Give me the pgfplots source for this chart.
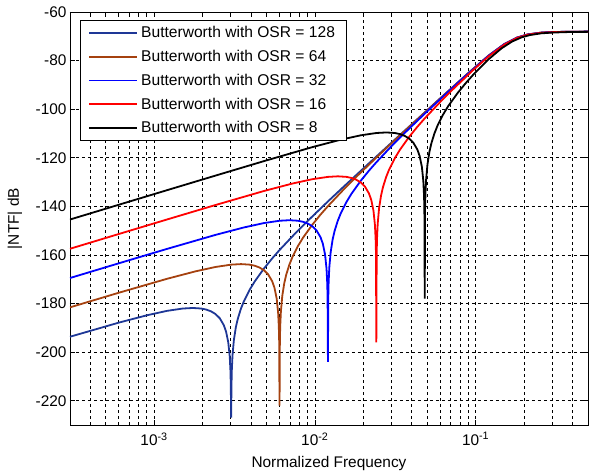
\documentclass[border=0pt]{standalone}
\usepackage{pgfplots}
\pgfplotsset{compat=1.18}
\usepackage{fontspec}
\setmainfont{Liberation Sans}
\definecolor{cnavy}{RGB}{30,55,150}
\definecolor{cbrown}{RGB}{165,65,15}
\begin{document}
\begin{tikzpicture}[font=\fontsize{15.4bp}{18bp}\selectfont]
\begin{semilogxaxis}[
  name=ax, at={(0,0)}, anchor=south west, scale only axis,
  width=518bp, height=413bp,
  xmin=3e-4, xmax=0.5, ymin=-230, ymax=-60,
  log basis x=10,
  ytick={-220,-200,...,-60},
  /pgf/number format/assume math mode=true,
  xticklabel={10\textsuperscript{\pgfmathprintnumber{\tick}}},
  xticklabel style={yshift=-4bp},
  tick align=inside, major tick length=5bp, minor tick length=3bp,
  xmajorgrids, xminorgrids, ymajorgrids,
  grid style={black, dash pattern=on 3bp off 3bp, line width=0.6bp},
  minor grid style={black, dash pattern=on 3bp off 3bp, line width=0.6bp},
  axis line style={line width=0.7bp},
  every tick/.style={black, line width=0.6bp},
  xlabel={Normalized Frequency}, ylabel={|NTF| dB},
  xlabel style={at={(axis description cs:0.5,-0.0944)}, anchor=center},
  ylabel style={at={(axis description cs:-0.1062,0.5)}, anchor=center},
  legend style={at={(axis description cs:0.0193,0.9806)}, anchor=north west,
    draw=black, line width=0.8bp, fill=white, inner xsep=8bp, inner ysep=5bp,
    row sep=9bp, nodes={inner xsep=3bp, inner ysep=1bp},
    font=\fontsize{15.6bp}{18bp}\selectfont},
  legend cell align=left,
  legend image code/.code={\draw[#1, line width=1.8bp] (0bp,0bp) -- (48bp,0bp);},
]
\addplot[cnavy, line width=1.8bp] table {
3.0e-4 -193.67
0.000603 -187.87
0.000905 -184.82
0.001206 -183.01
0.001508 -182.06
0.00174 -181.83
0.00196 -182.05
0.002111 -182.49
0.002262 -183.22
0.002413 -184.35
0.002564 -186.09
0.002714 -188.88
0.002805 -191.56
0.002895 -196.01
0.002956 -201.77
0.002986 -207.65
0.003001 -213.6
0.003016 -227
0.003031 -213.48
0.003046 -207.39
0.003076 -201.24
0.003137 -194.97
0.003227 -189.73
0.003318 -186.27
0.003468 -182.16
0.003619 -179.09
0.003921 -174.48
0.004222 -170.97
0.004826 -165.60
0.005429 -161.43
0.006032 -157.98
0.00754 -151.18
0.009048 -145.94
0.01206 -137.98
0.01508 -131.96
0.02111 -123.02
0.03016 -113.63
0.04524 -103.02
0.06032 -95.51
0.09048 -85.01
0.1206 -77.90
0.1508 -73.21
0.181 -70.54
0.2111 -69.23
0.2564 -68.49
0.3016 -68.24
0.4011 -68.12
0.5 -68.08
};
\addlegendentry{Butterworth with OSR = 128\hspace{6bp}}
\addplot[cbrown, line width=1.8bp] table {
3.0e-4 -181.57
0.000603 -175.57
0.001206 -169.81
0.001809 -166.76
0.002412 -164.95
0.003016 -164.00
0.00348 -163.77
0.00392 -163.99
0.004222 -164.43
0.004523 -165.16
0.004825 -166.29
0.005126 -168.03
0.005428 -170.82
0.005609 -173.50
0.00579 -177.95
0.00591 -183.71
0.005971 -189.59
0.006001 -195.54
0.006031 -222
0.006061 -195.42
0.006091 -189.33
0.006152 -183.18
0.006272 -176.91
0.006453 -171.67
0.006634 -168.21
0.006936 -164.10
0.007237 -161.03
0.00784 -156.42
0.008443 -152.91
0.00965 -147.54
0.010856 -143.37
0.012062 -139.92
0.015078 -133.12
0.018093 -127.88
0.024124 -119.92
0.030155 -113.90
0.042217 -104.96
0.06031 -95.58
0.09047 -85.05
0.12062 -77.92
0.15078 -73.22
0.18093 -70.54
0.2111 -69.23
0.2564 -68.49
0.3016 -68.24
0.4 -68.12
0.5 -68.08
};
\addlegendentry{Butterworth with OSR = 64}
\addplot[blue, line width=1.8bp] table {
3.0e-4 -169.50
0.000603 -163.45
0.001206 -157.50
0.002413 -151.74
0.003619 -148.69
0.004825 -146.88
0.006032 -145.93
0.00696 -145.70
0.00784 -145.92
0.008444 -146.36
0.009047 -147.09
0.00965 -148.22
0.010254 -149.96
0.010857 -152.75
0.011219 -155.43
0.01158 -159.88
0.011822 -165.64
0.011942 -171.52
0.012003 -177.47
0.012063 -204
0.012123 -177.35
0.012184 -171.26
0.012304 -165.11
0.012546 -158.84
0.012907 -153.60
0.013269 -150.14
0.013872 -146.03
0.014476 -142.96
0.015682 -138.35
0.016888 -134.84
0.019301 -129.47
0.021713 -125.30
0.024126 -121.85
0.030158 -115.05
0.036189 -109.81
0.048252 -101.85
0.060315 -95.84
0.084441 -86.95
0.12063 -77.98
0.15079 -73.25
0.18095 -70.57
0.2111 -69.25
0.2563 -68.51
0.3016 -68.25
0.4 -68.12
0.5 -68.08
};
\addlegendentry{Butterworth with OSR = 32}
\addplot[red, line width=1.8bp] table {
3.0e-4 -157.46
0.000603 -151.39
0.001206 -145.39
0.002413 -139.44
0.004825 -133.68
0.007238 -130.63
0.00965 -128.82
0.012063 -127.87
0.01392 -127.64
0.015681 -127.86
0.016888 -128.30
0.018094 -129.03
0.0193 -130.16
0.020506 -131.90
0.021713 -134.69
0.022436 -137.37
0.02316 -141.82
0.023643 -147.58
0.023884 -153.46
0.024004 -159.41
0.024125 -196
0.024246 -159.29
0.024366 -153.20
0.024608 -147.05
0.02509 -140.78
0.025814 -135.54
0.026538 -132.08
0.027744 -127.97
0.02895 -124.90
0.031363 -120.29
0.033775 -116.78
0.0386 -111.41
0.043425 -107.24
0.04825 -103.79
0.060313 -97.00
0.072375 -91.77
0.0965 -83.92
0.120625 -78.25
0.15078 -73.42
0.18094 -70.68
0.2111 -69.33
0.25633 -68.56
0.30156 -68.29
0.4 -68.13
0.5 -68.09
};
\addlegendentry{Butterworth with OSR = 16}
\addplot[black, line width=1.8bp] table {
3.0e-4 -145.42
0.000603 -139.35
0.001206 -133.33
0.002413 -127.33
0.004825 -121.38
0.00965 -115.62
0.014475 -112.57
0.0193 -110.76
0.024125 -109.81
0.02784 -109.58
0.031363 -109.80
0.033775 -110.24
0.036188 -110.97
0.0386 -112.10
0.041013 -113.84
0.043425 -116.63
0.044873 -119.31
0.04632 -123.76
0.047285 -129.52
0.047768 -135.40
0.048009 -141.35
0.04825 -178
0.048491 -141.23
0.048733 -135.14
0.049215 -128.99
0.05018 -122.72
0.051628 -117.48
0.053075 -114.02
0.055488 -109.91
0.0579 -106.84
0.062725 -102.24
0.06755 -98.74
0.0772 -93.39
0.08685 -89.25
0.0965 -85.86
0.120625 -79.41
0.14475 -74.99
0.168875 -72.13
0.193 -70.45
0.217125 -69.51
0.25573 -68.79
0.30156 -68.46
0.4 -68.21
0.5 -68.17
};
\addlegendentry{Butterworth with OSR = 8}
\end{semilogxaxis}
\pgfresetboundingbox
\path (ax.south west) ++(-70bp,-50bp) coordinate (bbl);
\path (ax.north east) ++(1bp,12bp) coordinate (bbr);
\path[use as bounding box] (bbl) rectangle (bbr);
\end{tikzpicture}
\end{document}
